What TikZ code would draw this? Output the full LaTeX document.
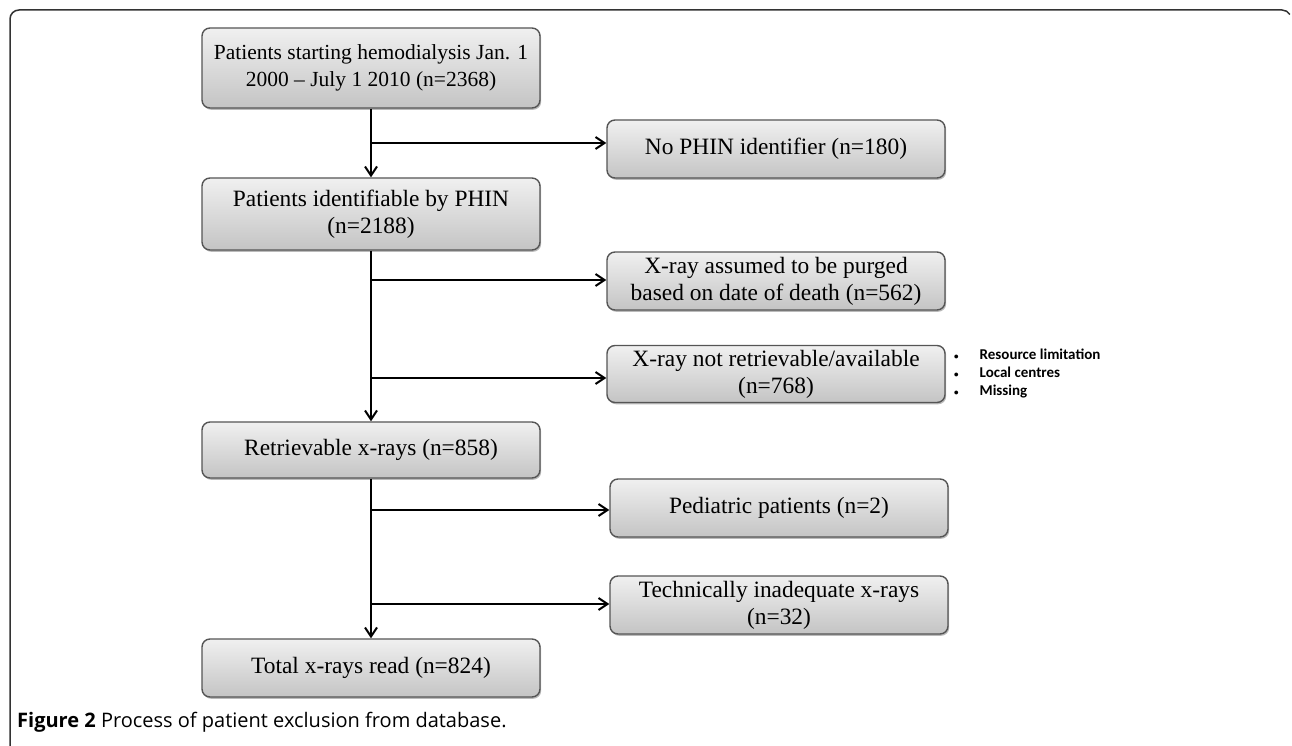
\documentclass[tikz,border=0pt]{standalone}
\usepackage{fontspec}
\setmainfont{Liberation Serif}
\newfontfamily\bulletfont{Carlito}
\newfontfamily\capfont{Open Sans}
\usetikzlibrary{arrows.meta,shadows}
\definecolor{frameline}{HTML}{333333}
\definecolor{boxline}{HTML}{555555}
\definecolor{boxtop}{HTML}{F0F0F0}
\definecolor{boxbot}{HTML}{C4C4C4}
\tikzset{
  flowbox/.style={draw=boxline, line width=1.4pt, rounded corners=8pt,
    top color=boxtop, bottom color=boxbot, minimum width=338pt,
    align=center, inner sep=2pt,
    font=\fontsize{23.4pt}{27pt}\selectfont,
    drop shadow={shadow xshift=1.2pt, shadow yshift=-1.8pt, opacity=0.45, fill=black!60}},
  arr/.style={line width=2pt, -{Straight Barb[length=9pt,width=12pt]}},
  link/.style={line width=2pt}
}
\begin{document}
\begin{tikzpicture}[x=1pt,y=-1pt]
\useasboundingbox (0,0) rectangle (1292,746);
% frame
\draw[frameline, line width=1.5pt] (10,746) -- (10,19) arc[start angle=180, end angle=270, radius=9] -- (1282,10) arc[start angle=270, end angle=330, radius=9];
% main column
\node[flowbox, minimum height=80pt, font=\fontsize{21.5pt}{27pt}\selectfont] (start) at (371,68) {Patients starting hemodialysis Jan. 1\\2000 -- July 1 2010 (n=2368)};
\node[flowbox, minimum height=72pt] (phin) at (371,214) {Patients identifiable by PHIN\\(n=2188)};
\node[flowbox, minimum height=56pt] (retr) at (371,450) {Retrievable x-rays (n=858)};
\node[flowbox, minimum height=58pt] (total) at (371,668) {Total x-rays read (n=824)};
% exclusions
\node[flowbox, minimum height=58pt] (nophin) at (776,149) {No PHIN identifier (n=180)};
\node[flowbox, minimum height=58pt] (purged) at (776,281) {X-ray assumed to be purged\\based on date of death (n=562)};
\node[flowbox, minimum height=57pt] (notret) at (776,374) {X-ray not retrievable/available\\(n=768)};
\node[flowbox, minimum height=58pt] (pedi) at (779,508) {Pediatric patients (n=2)};
\node[flowbox, minimum height=58pt] (tech) at (779,605) {Technically inadequate x-rays\\(n=32)};
% bullet list
\node[anchor=north west, inner sep=0pt, font=\bulletfont\bfseries\fontsize{15pt}{18pt}\selectfont] (reasons) at (954,347)
  {\begin{tabular}{@{}l@{\hspace{21pt}}l@{}}
   \scalebox{0.6}{\textbullet} & Resource limitation\\
   \scalebox{0.6}{\textbullet} & Local centres\\
   \scalebox{0.6}{\textbullet} & Missing
   \end{tabular}};
% branch points
\coordinate (b1) at (371,143);
\coordinate (b2) at (371,280);
\coordinate (b3) at (371,378);
\coordinate (b4) at (371,510);
\coordinate (b5) at (371,604);
% connectors
\draw[arr] (start.south) -- (phin.north);
\draw[arr] (b1) -- (b1 -| nophin.west);
\draw[arr] (phin.south) -- (retr.north);
\draw[arr] (b2) -- (b2 -| purged.west);
\draw[arr] (b3) -- (b3 -| notret.west);
\draw[arr] (retr.south) -- (total.north);
\draw[arr] (b4) -- (b4 -| pedi.west);
\draw[arr] (b5) -- (b5 -| tech.west);
% caption
\node[anchor=west, inner sep=0pt, font=\capfont\fontsize{20pt}{22pt}\selectfont] (caption) at (17,722)
  {\textbf{Figure 2} Process of patient exclusion from database.};
\end{tikzpicture}
\end{document}
